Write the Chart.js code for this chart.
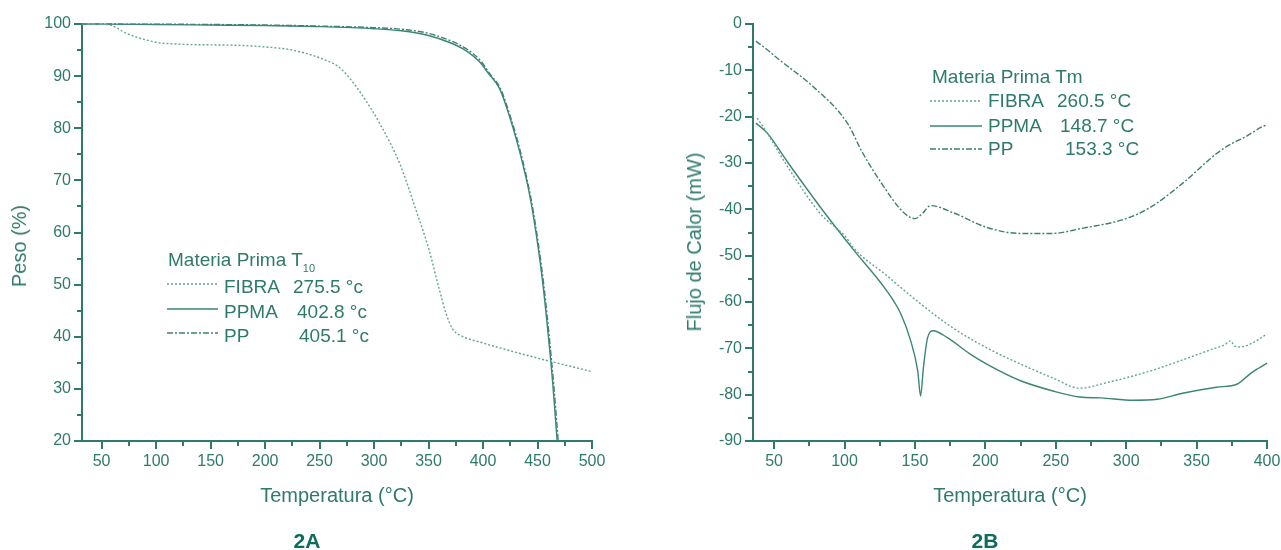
<!DOCTYPE html>
<html>
<head>
<meta charset="utf-8">
<script src="https://cdn.jsdelivr.net/npm/chart.js@4"></script>
<style>
	body { margin: 0; width: 1281px; height: 550px; overflow: hidden; background: #fff; position: relative;
		font-family: 'Liberation Sans', Arial, sans-serif; color: #2e7a6b; }
	canvas { position: absolute; top: 0; }
	#chartA { left: 0; }
	#chartB { left: 640px; }
	.t { position: absolute; white-space: nowrap; font-size: 19px; line-height: 19px; }
	.t sub { font-size: 11px; vertical-align: -6px; line-height: 0; }
	.ax { position: absolute; white-space: nowrap; font-size: 20px; line-height: 20px; transform: translate(-50%, -50%); }
	.ax.v { transform: translate(-50%, -50%) rotate(-90deg); }
	.fig { position: absolute; font-weight: bold; font-size: 21px; line-height: 21px; color: #0d6c5a; transform: translate(-50%, -50%); }
	svg { position: absolute; }
</style>
</head>
<body>
<canvas id="chartA" width="640" height="520"></canvas>
<canvas id="chartB" width="660" height="520"></canvas>
<script>
// colours and line styles
const axisColor = '#2e7a6b';
const textColor = '#2e7a6b';
const seriesNames = ['FIBRA', 'PPMA', 'PP'];
const seriesColors = ['#63a395', '#3b8575', '#3d8073'];
const seriesDash = [[2, 2], [], [6, 2, 2, 2]];

// 2A: peso (%) vs temperatura
const fibraA_T = [32, 55, 75, 100, 125, 150, 175, 200, 225, 250, 268, 276, 287, 305, 324, 339, 350, 360, 366, 372, 380, 400, 425, 450, 475, 500];
const fibraA_W = [100, 99.9, 98, 96.5, 96.1, 96, 95.9, 95.6, 95, 93.5, 91.7, 90, 87, 81, 73, 64, 57, 49, 44.5, 41.5, 40.2, 38.8, 37.3, 35.9, 34.6, 33.3];
const ppmaA_T = [32, 100, 150, 200, 250, 300, 325, 350, 370, 385, 397, 405, 415, 424, 433, 443, 450, 455, 460, 464, 468];
const ppmaA_W = [100, 99.9, 99.8, 99.7, 99.5, 99.1, 98.7, 97.8, 96.4, 94.8, 92.7, 90.5, 87.7, 82.5, 76, 67, 58, 50, 40, 31, 20];
const ppA_T = [32, 120, 200, 250, 300, 325, 350, 370, 385, 398, 406, 416, 425, 434, 444, 451, 456, 461, 465, 469];
const ppA_W = [100, 99.95, 99.8, 99.6, 99.3, 99.0, 98.2, 96.8, 95.2, 92.9, 90.5, 87.6, 82.3, 75.8, 66.5, 57.5, 49.5, 39.5, 30.5, 20];

// 2B: flujo de calor (mW) vs temperatura
const fibraB_T = [38, 45, 60, 83, 101, 106, 130, 154, 177, 201, 225, 248, 267, 285, 317, 340, 360, 370, 374, 377, 381, 390, 400];
const fibraB_Q = [-20.3, -23.5, -31, -41, -46, -48.2, -54.3, -60.4, -65.6, -69.9, -73.4, -76.4, -78.6, -77.5, -74.9, -72.5, -70.3, -69.2, -68.4, -69.5, -69.7, -68.8, -66.9];
const ppmaB_T = [37, 45, 60, 83, 106, 130, 140, 147, 152, 154, 156, 159, 163, 173, 189, 201, 225, 248, 267, 282, 305, 322, 340, 364, 379, 388, 394, 400];
const ppmaB_Q = [-21.4, -23.5, -30, -39.6, -48.6, -57.6, -62.6, -68.4, -74.9, -80.3, -74.2, -67.7, -66.2, -67.7, -71.2, -73.4, -77, -79.2, -80.5, -80.7, -81.2, -81, -79.7, -78.4, -77.7, -75.5, -74.3, -73.2];
const ppB_T = [37, 42, 54, 78, 102, 113, 125, 142, 150, 155, 161, 177, 201, 225, 248, 267, 300, 317, 340, 364, 375, 385, 397, 400];
const ppB_Q = [-3.7, -4.8, -7.8, -13.6, -21.4, -27.9, -33.8, -40.7, -42, -41, -39.2, -40.7, -43.9, -45.2, -45.2, -44.2, -42, -39.6, -34.4, -28, -25.8, -24.3, -22.1, -21.8];

// ticks
const ticksA_x = [50, 100, 150, 200, 250, 300, 350, 400, 450, 500];
const minorA_x = [75, 125, 175, 225, 275, 325, 375, 425, 475];
const ticksA_y = [20, 30, 40, 50, 60, 70, 80, 90, 100];
const minorA_y = [25, 35, 45, 55, 65, 75, 85, 95];
const ticksB_x = [50, 100, 150, 200, 250, 300, 350, 400];
const minorB_x = [75, 125, 175, 225, 275, 325, 375];
const ticksB_y = [-90, -80, -70, -60, -50, -40, -30, -20, -10, 0];
const minorB_y = [-85, -75, -65, -55, -45, -35, -25, -15, -5];

// legend texts
const legendTitleA = 'Materia Prima T<sub>10</sub>';
const legendValsA = ['275.5 °c', '402.8 °c', '405.1 °c'];
const legendTitleB = 'Materia Prima Tm';
const legendValsB = ['260.5 °C', '148.7 °C', '153.3 °C'];

// short outward ticks between the labelled ones
const minorTicks = {
	id: 'minorTicks',
	afterDraw(chart, args, o)
	{
		const ctx = chart.ctx;
		const xs = chart.scales.x, ys = chart.scales.y;
		ctx.save();
		ctx.strokeStyle = axisColor;
		ctx.lineWidth = 2;
		ctx.beginPath();
		o.x.forEach(v => {
			const px = Math.round(xs.getPixelForValue(v));
			ctx.moveTo(px, xs.top);
			ctx.lineTo(px, xs.top + 5);
		});
		o.y.forEach(v => {
			const py = Math.round(ys.getPixelForValue(v));
			ctx.moveTo(ys.right, py);
			ctx.lineTo(ys.right - 5, py);
		});
		ctx.stroke();
		ctx.restore();
	}
};

function makeChart(id, sets, opt)
{
	const axis = (ticks, extra) => Object.assign({
		type: 'linear',
		afterBuildTicks: s => { s.ticks = ticks.map(v => ({ value: v })); },
		grid: { drawOnChartArea: false, drawTicks: true, tickLength: 8, color: axisColor, lineWidth: 2 },
		border: { display: true, color: axisColor, width: 2 },
		ticks: { color: textColor, font: { size: 16 }, autoSkip: false, maxRotation: 0 }
	}, extra);

	return new Chart(document.getElementById(id), {
		type: 'line',
		data: {
			datasets: sets.map((s, i) => ({
				label: seriesNames[i],
				data: s[0].map((t, k) => ({ x: t, y: s[1][k] })),
				borderColor: seriesColors[i],
				borderDash: seriesDash[i],
				borderWidth: 1.4,
				pointRadius: 0,
				cubicInterpolationMode: 'monotone',
				clip: 4
			}))
		},
		options: {
			responsive: false,
			animation: false,
			events: [],
			layout: { padding: { top: 24, right: opt.padRight, bottom: 0, left: 0 } },
			plugins: {
				legend: { display: false },
				tooltip: { enabled: false },
				minorTicks: { x: opt.minorX, y: opt.minorY }
			},
			scales: {
				x: axis(opt.ticksX, { min: opt.xMin, max: opt.xMax, afterFit: s => { s.height = 79; } }),
				y: axis(opt.ticksY, { min: opt.yMin, max: opt.yMax, afterFit: s => { s.width = opt.yWidth; } })
			}
		},
		plugins: [minorTicks]
	});
}

function addText(html, left, top, cls)
{
	const d = document.createElement('div');
	d.className = cls;
	d.style.left = left + 'px';
	d.style.top = top + 'px';
	d.innerHTML = html;
	document.body.appendChild(d);
}

function addSample(i, left, cy, w)
{
	const ns = 'http://www.w3.org/2000/svg';
	const svg = document.createElementNS(ns, 'svg');
	svg.setAttribute('width', w);
	svg.setAttribute('height', 4);
	svg.style.left = left + 'px';
	svg.style.top = (cy - 2) + 'px';
	const ln = document.createElementNS(ns, 'line');
	ln.setAttribute('x1', 0); ln.setAttribute('x2', w);
	ln.setAttribute('y1', 2); ln.setAttribute('y2', 2);
	ln.setAttribute('stroke', seriesColors[i]);
	ln.setAttribute('stroke-width', 1.4);
	if (seriesDash[i].length) ln.setAttribute('stroke-dasharray', seriesDash[i].join(' '));
	svg.appendChild(ln);
	document.body.appendChild(svg);
}

function main()
{
	makeChart('chartA', [[fibraA_T, fibraA_W], [ppmaA_T, ppmaA_W], [ppA_T, ppA_W]], {
		xMin: 32, xMax: 500, yMin: 20, yMax: 100,
		ticksX: ticksA_x, ticksY: ticksA_y, minorX: minorA_x, minorY: minorA_y,
		yWidth: 82, padRight: 48
	});
	makeChart('chartB', [[fibraB_T, fibraB_Q], [ppmaB_T, ppmaB_Q], [ppB_T, ppB_Q]], {
		xMin: 35, xMax: 400, yMin: -90, yMax: 0,
		ticksX: ticksB_x, ticksY: ticksB_y, minorX: minorB_x, minorY: minorB_y,
		yWidth: 113, padRight: 33
	});

	// axis titles
	addText('Temperatura (°C)', 337, 495, 'ax');
	addText('Peso (%)', 19, 246, 'ax v');
	addText('Temperatura (°C)', 1010, 495, 'ax');
	addText('Flujo de Calor (mW)', 694, 242, 'ax v');

	// legend 2A
	addText(legendTitleA, 168, 250, 't');
	const rowsA = [284, 309, 333];
	const valLeftA = [293, 297, 299];
	rowsA.forEach((cy, i) => {
		addSample(i, 167, cy, 51);
		addText(seriesNames[i], 224, cy - 7, 't');
		addText(legendValsA[i], valLeftA[i], cy - 7, 't');
	});

	// legend 2B
	addText(legendTitleB, 932, 67, 't');
	const rowsB = [101, 126, 149];
	const valLeftB = [1057, 1060, 1065];
	rowsB.forEach((cy, i) => {
		addSample(i, 930, cy, 52);
		addText(seriesNames[i], 988, cy - 10, 't');
		addText(legendValsB[i], valLeftB[i], cy - 10, 't');
	});

	addText('2A', 307, 540, 'fig');
	addText('2B', 985, 540, 'fig');
}

main();
</script>
</body>
</html>
